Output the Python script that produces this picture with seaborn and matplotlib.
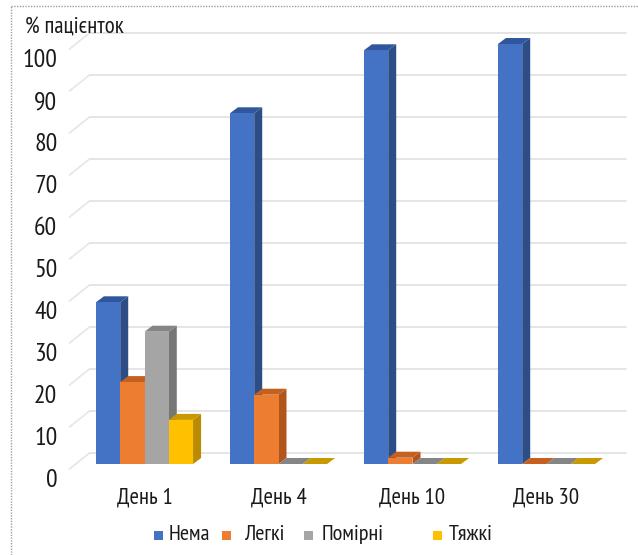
import numpy as np
import pandas as pd
import matplotlib
matplotlib.use("Agg")
import matplotlib.pyplot as plt
import seaborn as sns
from matplotlib.patches import Polygon, Rectangle
from matplotlib.lines import Line2D
from matplotlib.transforms import ScaledTranslation, IdentityTransform

# ---- data ----
days = ["День 1", "День 4", "День 10", "День 30"]
severity = ["Нема", "Легкі", "Помірні", "Тяжкі"]
nema = [38.5, 83.5, 98.5, 100]
legki = [19.5, 16.5, 1.5, 0]
pomirni = [31.5, 0, 0, 0]
tyazhki = [10.5, 0, 0, 0]
yticks = [0, 10, 20, 30, 40, 50, 60, 70, 80, 90, 100]
ylabel = "% пацієнток"

front_colors = ["#4472C4", "#ED7D31", "#A5A5A5", "#FFC000"]
side_colors = ["#2C4D86", "#B0561C", "#777777", "#B98B00"]
top_colors = ["#30579C", "#C5601F", "#858585", "#C99A00"]

df = pd.DataFrame({
    "day": days * 4,
    "sev": sum([[s] * len(days) for s in severity], []),
    "val": nema + legki + pomirni + tyazhki,
})

sns.set_theme(style="white")
plt.rcParams["font.family"] = ["PT Sans Narrow", "Roboto Condensed", "DejaVu Sans"]
TXT = "#1A1A1A"

W, H = 638, 555
fig = plt.figure(figsize=(W / 100, H / 100), dpi=100)
fl, fr, fb, ft = 77.5, 613.5, 464, 44  # front plane in pixels (top-origin)
ax = fig.add_axes([fl / W, 1 - fb / H, (fr - fl) / W, (fb - ft) / H])

sns.barplot(data=df, x="day", y="val", hue="sev", order=days, hue_order=severity,
            palette=front_colors, saturation=1, width=0.725, legend=False,
            errorbar=None, ax=ax, linewidth=0)
ax.set_xlim(-0.5, 3.5)
ax.set_ylim(0, 100)
for s in ax.spines.values():
    s.set_visible(False)
ax.grid(False)
ax.set_xlabel("")
ax.set_ylabel("")
ax.set_yticks(yticks)
ax.set_yticklabels([str(v) for v in yticks])
ax.tick_params(axis="y", length=0, pad=14.5, labelsize=18.5, labelcolor=TXT)
ax.tick_params(axis="x", length=0, pad=17, labelsize=16.5, labelcolor=TXT)
for lab in ax.get_yticklabels():
    lab.set_transform(lab.get_transform() + ScaledTranslation(0, -14 / 100, fig.dpi_scale_trans))

fig.canvas.draw()
T = ax.transData
DX, DY = 8, 6          # bar depth offset (pixels)
BX, BY = 12, 11        # back wall offset (pixels)

# back-wall gridlines
x0 = T.transform((-0.5, 0))[0]
x1 = T.transform((3.5, 0))[0]
for v in yticks:
    yf = T.transform((0, v))[1]
    yb = yf + BY
    ax.add_line(Line2D([x0 + BX, x1 + BX], [yb, yb], color="#E0E0E0", lw=1.2,
                       transform=IdentityTransform(), clip_on=False, zorder=0.5))
    ax.add_line(Line2D([x0 - 8, x0 + BX], [yf - 5, yb], color="#E6E6E6", lw=1.2,
                       transform=IdentityTransform(), clip_on=False, zorder=0.5))

# pseudo-3D faces
for i, cont in enumerate(ax.containers):
    for bar in cont:
        bx, bw, bh = bar.get_x(), bar.get_width(), bar.get_height()
        (px0, py0) = T.transform((bx, 0))
        (px1, py1) = T.transform((bx + bw, bh))
        z = 2 + bx
        bar.set_zorder(z)
        side = Polygon([(px1, py0), (px1 + DX, py0 + DY), (px1 + DX, py1 + DY), (px1, py1)],
                       closed=True, facecolor=side_colors[i], edgecolor="none",
                       transform=IdentityTransform(), clip_on=False, zorder=z - 0.01)
        top = Polygon([(px0, py1), (px1, py1), (px1 + DX, py1 + DY), (px0 + DX, py1 + DY)],
                      closed=True, facecolor=top_colors[i], edgecolor="none",
                      transform=IdentityTransform(), clip_on=False, zorder=z - 0.01)
        if bh > 0:
            ax.add_patch(side)
        ax.add_patch(top)

# y-axis title
fig.text(25 / W, 1 - 28 / H, ylabel, ha="left", va="center", fontsize=16.5, color=TXT)

# legend (hand-placed items, as in the reference)
leg_sq_x = [154, 222, 304, 433]
leg_tx_x = [169, 244, 322, 449]
leg_y = 535
for c, lab, sx, tx in zip(front_colors, severity, leg_sq_x, leg_tx_x):
    fig.add_artist(Rectangle((sx / W, 1 - (leg_y + 4.5) / H), 9 / W, 9 / H,
                             transform=fig.transFigure, facecolor=c, edgecolor="none"))
    fig.text(tx / W, 1 - leg_y / H, lab, ha="left", va="center", fontsize=16, color=TXT)

# dotted frame (top and left only visible)
fig.add_artist(Line2D([11 / W, 1], [1 - 6 / H, 1 - 6 / H], transform=fig.transFigure,
                      color="#A0A0A0", lw=1, linestyle=(0, (1, 1))))
fig.add_artist(Line2D([11 / W, 11 / W], [0, 1 - 6 / H], transform=fig.transFigure,
                      color="#A0A0A0", lw=1, linestyle=(0, (1, 1))))

fig.savefig("out.png", dpi=100)
